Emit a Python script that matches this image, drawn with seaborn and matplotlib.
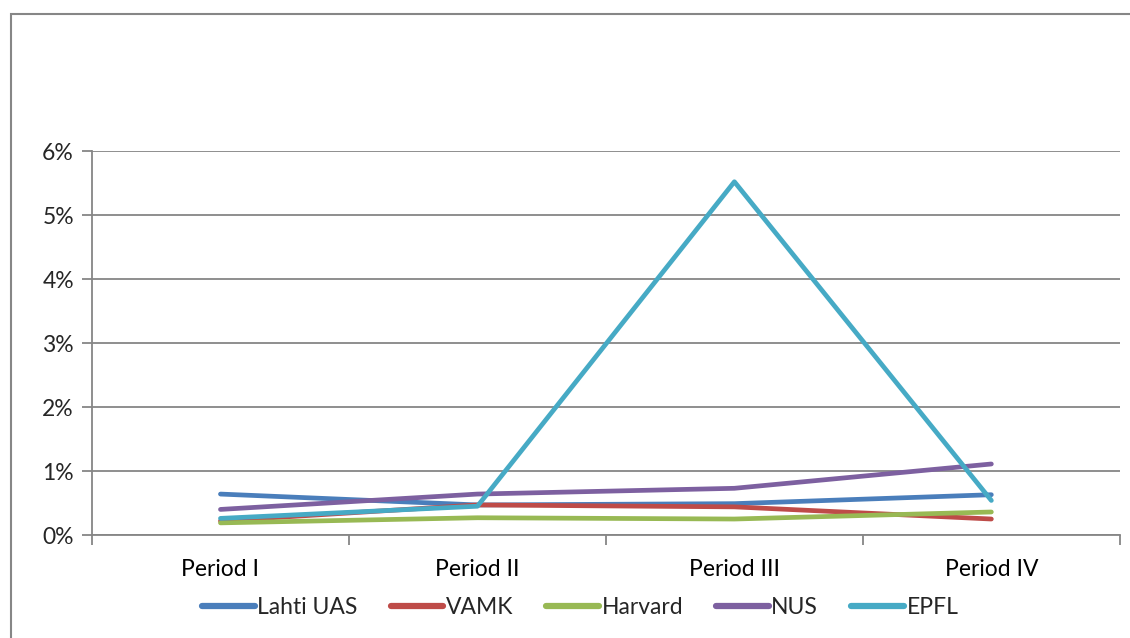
import matplotlib
matplotlib.use("Agg")
import matplotlib.pyplot as plt
import seaborn as sns
import pandas as pd
from matplotlib.patches import Rectangle
from matplotlib.ticker import FuncFormatter, FixedLocator, NullFormatter

periods = ["Period I", "Period II", "Period III", "Period IV"]
lahti = [0.64, 0.47, 0.49, 0.63]
vamk = [0.22, 0.47, 0.44, 0.25]
harvard = [0.19, 0.27, 0.25, 0.36]
nus = [0.40, 0.64, 0.73, 1.11]
epfl = [0.26, 0.45, 5.52, 0.54]
series_names = ["Lahti UAS", "VAMK", "Harvard", "NUS", "EPFL"]
colors = ["#4A7EBB", "#BE4B48", "#98B954", "#7D60A0", "#46AAC5"]

rows = []
for name, vals in zip(series_names, [lahti, vamk, harvard, nus, epfl]):
    for i, (p, v) in enumerate(zip(periods, vals)):
        rows.append({"pos": i, "period": p, "value": v, "series": name})
df = pd.DataFrame(rows)

sns.set_theme(style="white")
plt.rcParams["font.family"] = ["Lato", "DejaVu Sans"]

fig = plt.figure(figsize=(11.30, 6.38), dpi=100)
ax = fig.add_axes([0.0814, 0.1614, 0.9096, 0.6019])

sns.lineplot(data=df, x="pos", y="value", hue="series", hue_order=series_names,
             palette=colors, linewidth=3.4, ax=ax, legend=True, sort=False,
             solid_capstyle="round")

ax.set_xlim(-0.5, 3.5)
ax.set_ylim(0, 6)
ax.set_yticks([0, 1, 2, 3, 4, 5, 6])
ax.yaxis.set_major_formatter(FuncFormatter(lambda v, p: f"{int(round(v))}%"))
ax.xaxis.set_major_locator(FixedLocator([-0.5, 0.5, 1.5, 2.5, 3.5]))
ax.xaxis.set_major_formatter(NullFormatter())
ax.xaxis.set_minor_locator(FixedLocator([0, 1, 2, 3]))
ax.set_xticklabels(periods, minor=True)
ax.tick_params(axis="x", which="major", length=7, width=1.3, color="#868686", direction="out", bottom=True)
ax.tick_params(axis="x", which="minor", length=0, labelsize=16.5, pad=17, colors="black")
ax.tick_params(axis="y", which="major", length=7, width=1.3, color="#868686", direction="out", left=True, labelsize=16.5, pad=6)
ax.set_xlabel("")
ax.set_ylabel("")
ax.grid(axis="y", color="#868686", linewidth=1.3)
ax.set_axisbelow(True)
for s in ["top", "right"]:
    ax.spines[s].set_visible(False)
for s in ["left", "bottom"]:
    ax.spines[s].set_color("#868686")
    ax.spines[s].set_linewidth(1.3)

handles, labels = ax.get_legend_handles_labels()
ax.legend(handles, labels, loc="center", bbox_to_anchor=(0.475, -0.19), ncol=5,
          frameon=False, fontsize=16.5, handlelength=2.3, handletextpad=0.1,
          columnspacing=1.45)
for line in ax.get_legend().get_lines():
    line.set_linewidth(4.5)
    line.set_solid_capstyle("round")

fig.patches.append(Rectangle((11 / 1130, -0.05), 1.2, 1 - 14 / 638 + 0.05,
                             transform=fig.transFigure, fill=False,
                             edgecolor="#868686", linewidth=1.5))

fig.savefig("out.png", dpi=100, facecolor="white")
